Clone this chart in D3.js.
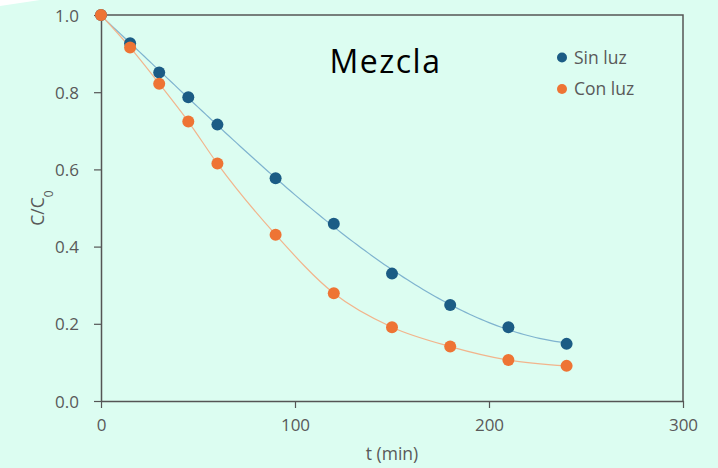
<!DOCTYPE html>
<html>
<head>
<meta charset="utf-8">
<script src="https://cdn.jsdelivr.net/npm/d3@7"></script>
<style>
  html, body { margin: 0; padding: 0; background: #dcfdf1; }
  svg { display: block; }
</style>
</head>
<body>
<svg id="chart" width="718" height="468"></svg>
<script>
// Sampling times (min)
const times = [0, 15, 30, 45, 60, 90, 120, 150, 180, 210, 240];
// Normalised concentration C/C0 for each condition
const sinLuz = [1.0, 0.927, 0.851, 0.787, 0.716, 0.577, 0.459, 0.330, 0.249, 0.191, 0.148];
const conLuz = [1.0, 0.916, 0.822, 0.724, 0.615, 0.431, 0.279, 0.191, 0.141, 0.106, 0.091];
const seriesNames = ["Sin luz", "Con luz"];
const xTicks = [0, 100, 200, 300];
const yTicks = [0.0, 0.2, 0.4, 0.6, 0.8, 1.0];
const chartTitle = "Mezcla";

const colors = { "Sin luz": "#1b5c85", "Con luz": "#ee7434" };
const lineColors = { "Sin luz": "#7fb3cf", "Con luz": "#f2b48c" };

const svg = d3.select("#chart");
const m = { left: 101, right: 683, top: 15, bottom: 401 };
const font = "'Open Sans', sans-serif";

// slight white sliver in the upper-left corner
svg.append("path").attr("d", "M0,0 L40,0 L0,6 Z").attr("fill", "#ffffff");

const x = d3.scaleLinear().domain([0, 300]).range([m.left, m.right]);
const y = d3.scaleLinear().domain([0, 1]).range([m.bottom, m.top]);

const axisColor = "#555555";
const textColor = "#595959";

// frame (top and right edges)
svg.append("path")
  .attr("d", `M${m.left},${m.top} H${m.right} V${m.bottom}`)
  .attr("fill", "none").attr("stroke", axisColor).attr("stroke-width", 1.5);

// x axis
const gx = svg.append("g").attr("transform", `translate(0,${m.bottom})`)
  .call(d3.axisBottom(x).tickValues(xTicks).tickFormat(d3.format("d")).tickSizeOuter(0).tickSizeInner(7).tickPadding(11));
// y axis
const gy = svg.append("g").attr("transform", `translate(${m.left},0)`)
  .call(d3.axisLeft(y).tickValues(yTicks).tickFormat(d3.format(".1f")).tickSizeOuter(0).tickSizeInner(7).tickPadding(15));

[gx, gy].forEach(g => {
  g.select(".domain").attr("stroke", axisColor).attr("stroke-width", 1.5);
  g.selectAll(".tick line").attr("stroke", axisColor).attr("stroke-width", 1.2);
  g.selectAll(".tick text").attr("fill", textColor)
    .style("font-family", font).style("font-size", "17px");
});
gy.selectAll(".tick text").attr("dy", "0.36em");

// axis titles
svg.append("text")
  .attr("x", (m.left + m.right) / 2).attr("y", 460)
  .attr("text-anchor", "middle").attr("fill", textColor)
  .style("font-family", font).style("font-size", "17.5px")
  .text("t (min)");

const yt = svg.append("text")
  .attr("transform", `translate(44,${(m.top + m.bottom) / 2}) rotate(-90)`)
  .attr("text-anchor", "middle").attr("fill", textColor)
  .style("font-family", font).style("font-size", "17.5px");
yt.append("tspan").text("C/C");
yt.append("tspan").attr("baseline-shift", "sub").style("font-size", "12px").text("0");

// least-squares polynomial trend line
function polyFit(xs, ys, order) {
  const n = order + 1;
  const A = Array.from({ length: n }, () => new Array(n + 1).fill(0));
  xs.forEach((xi, k) => {
    for (let i = 0; i < n; i++) {
      for (let j = 0; j < n; j++) A[i][j] += Math.pow(xi, i + j);
      A[i][n] += Math.pow(xi, i) * ys[k];
    }
  });
  for (let c = 0; c < n; c++) {
    let p = c;
    for (let r = c + 1; r < n; r++) if (Math.abs(A[r][c]) > Math.abs(A[p][c])) p = r;
    [A[c], A[p]] = [A[p], A[c]];
    for (let r = 0; r < n; r++) {
      if (r === c) continue;
      const f = A[r][c] / A[c][c];
      for (let k = c; k <= n; k++) A[r][k] -= f * A[c][k];
    }
  }
  const coef = A.map((row, i) => row[n] / row[i]);
  return t => coef.reduce((s, c, i) => s + c * Math.pow(t, i), 0);
}

const dataBy = { "Sin luz": sinLuz, "Con luz": conLuz };
const line = d3.line().x(d => x(d[0])).y(d => y(d[1]));

// Sin luz: cubic trend line; Con luz: smooth monotone curve through the measurements
{
  const f = polyFit(times, sinLuz, 3);
  const pts = d3.range(0, 240.01, 2).map(t => [t, f(t)]);
  svg.append("path").datum(pts).attr("d", line)
    .attr("fill", "none").attr("stroke", lineColors["Sin luz"]).attr("stroke-width", 1.2);
}
{
  const smooth = d3.line().x(d => x(d[0])).y(d => y(d[1])).curve(d3.curveMonotoneX);
  svg.append("path").datum(times.map((t, i) => [t, conLuz[i]])).attr("d", smooth)
    .attr("fill", "none").attr("stroke", lineColors["Con luz"]).attr("stroke-width", 1.2);
}

// markers (Sin luz first, Con luz on top)
seriesNames.forEach(name => {
  svg.append("g").selectAll("circle")
    .data(times.map((t, i) => [t, dataBy[name][i]]))
    .join("circle")
    .attr("cx", d => x(d[0])).attr("cy", d => y(d[1])).attr("r", 6)
    .attr("fill", colors[name]);
});

// title
svg.append("text")
  .attr("x", 385.5).attr("y", 73).attr("text-anchor", "middle")
  .attr("fill", "#000")
  .style("font-family", font).style("font-size", "32px")
  .style("letter-spacing", "1.5px").style("font-weight", 500)
  .text(chartTitle);

// legend
const lg = svg.append("g");
seriesNames.forEach((name, i) => {
  const cy = 57.5 + i * 31.5;
  lg.append("circle").attr("cx", 562).attr("cy", cy).attr("r", 5).attr("fill", colors[name]);
  lg.append("text").attr("x", 574).attr("y", cy).attr("dy", "0.36em")
    .attr("fill", textColor)
    .style("font-family", font).style("font-size", "17.5px")
    .text(name);
});
</script>
</body>
</html>
